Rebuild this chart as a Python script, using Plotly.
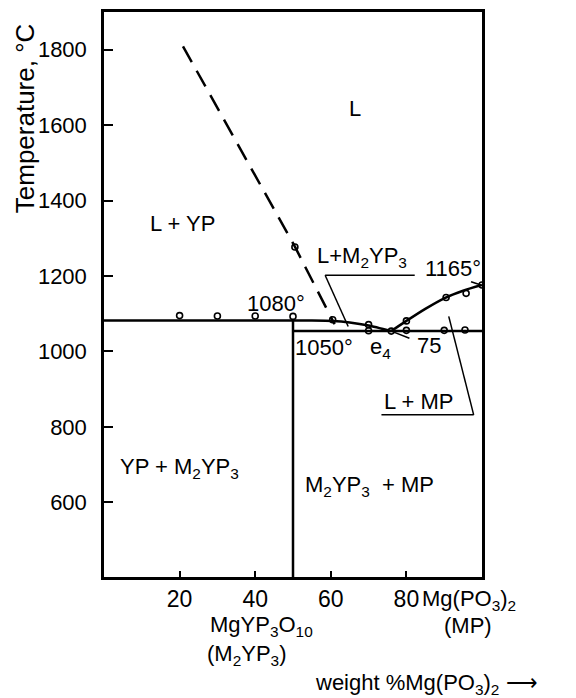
import plotly.graph_objects as go

# ---- data (weight % Mg(PO3)2, temperature in °C) ----
liq_left_x = [0, 50, 55, 60.5, 65, 70, 76]
liq_left_y = [1082, 1082, 1082, 1081, 1077, 1069, 1054]
liq_right_x = [76, 80, 85, 90, 95, 100]
liq_right_y = [1054, 1081, 1113, 1141, 1161, 1176]
solidus_x = [50, 100]
solidus_y = [1054, 1054]
compound_x = [50, 50]
compound_y = [402, 1082]
dashed_x = [20.9, 50.5, 61]
dashed_y = [1809, 1278, 1072]
exp_x = [20, 30, 40, 50, 60.5, 70, 70, 76, 80, 80, 90.5, 90, 95.8, 95.5, 100, 50.5]
exp_y = [1095, 1094, 1094, 1093, 1084, 1071, 1055, 1054, 1081, 1056, 1143, 1056, 1154, 1057, 1176, 1277]

x_tick_vals = [20, 40, 60, 80]
x_tick_text = ["20", "40", "60", "80"]
y_tick_vals = [600, 800, 1000, 1200, 1400, 1600, 1800]

# region / point labels: (text, x, y, xanchor)
labels = [
    ("L", 66.4, 1645, "center"),
    ("L + YP", 11.6, 1338, "left"),
    ("L+M<sub>2</sub>YP<sub>3</sub>", 55.8, 1250, "left"),
    ("1165°", 84.4, 1219, "left"),
    ("1080°", 37.3, 1127, "left"),
    ("1050°", 50.0, 1011, "left"),
    ("e<sub>4</sub>", 69.8, 1010, "left"),
    ("75", 82.3, 1016, "left"),
    ("L + MP", 73.5, 866, "left"),
    ("YP + M<sub>2</sub>YP<sub>3</sub>", 3.7, 692, "left"),
    ("M<sub>2</sub>YP<sub>3</sub>  + MP", 52.7, 642, "left"),
]

# leader lines: (x0, y0, x1, y1)
leaders = [
    (58.5, 1202, 82.2, 1202),
    (58.5, 1202, 64.6, 1066),
    (97.1, 1185, 99.7, 1176),
    (76.0, 1054, 80.8, 1035),
    (73.4, 832, 97.8, 832),
    (97.8, 832, 91.2, 1093),
]

# axis-end compound labels (text, x data, paper y)
bottom_labels = [
    ("YPO<sub>4</sub>", -5.8, -0.040),
    ("(YP)", -5.8, -0.087),
    ("Mg(PO<sub>3</sub>)<sub>2</sub>", 83.6, -0.040),
    ("(MP)", 89.4, -0.085),
    ("MgYP<sub>3</sub>O<sub>10</sub>", 27.5, -0.087),
    ("(M<sub>2</sub>YP<sub>3</sub>)", 26.7, -0.138),
    ("weight %Mg(PO<sub>3</sub>)<sub>2</sub> \u27f6", 55.3, -0.190),
]

FONT = "Liberation Sans, Arial, sans-serif"
LW = 2.5

fig = go.Figure()
line_style = dict(color="black", width=LW)
fig.add_trace(go.Scatter(x=liq_left_x, y=liq_left_y, mode="lines", line=dict(shape="spline", smoothing=0.6, **line_style)))
fig.add_trace(go.Scatter(x=liq_right_x, y=liq_right_y, mode="lines", line=dict(shape="spline", smoothing=0.8, **line_style)))
fig.add_trace(go.Scatter(x=solidus_x, y=solidus_y, mode="lines", line=line_style))
fig.add_trace(go.Scatter(x=compound_x, y=compound_y, mode="lines", line=line_style))
fig.add_trace(go.Scatter(x=dashed_x, y=dashed_y, mode="lines",
                         line=dict(color="black", width=LW, dash="18px,10px")))
fig.add_trace(go.Scatter(x=exp_x, y=exp_y, mode="markers",
                         marker=dict(symbol="circle-open", size=6, color="black", line=dict(width=1.6))))

for x0, y0, x1, y1 in leaders:
    fig.add_shape(type="line", x0=x0, y0=y0, x1=x1, y1=y1, xref="x", yref="y",
                  line=dict(color="black", width=1.5))

for text, x, y, xa in labels:
    fig.add_annotation(text=text, x=x, y=y, xref="x", yref="y", xanchor=xa, yanchor="middle",
                       showarrow=False, font=dict(size=22, color="black", family=FONT))

for text, x, y in bottom_labels:
    fig.add_annotation(text=text, x=x, y=y, xref="x", yref="paper", xanchor="left", yanchor="middle",
                       showarrow=False, font=dict(size=22, color="black", family=FONT))

fig.add_annotation(text="Temperature, °C", textangle=-90, x=-0.209, y=0.812, xref="paper", yref="paper",
                   xanchor="center", yanchor="middle", showarrow=False,
                   font=dict(size=26, color="black", family=FONT))

# page body has an 8px margin, so the figure is 8px smaller and offset
fig.update_layout(
    width=568, height=690,
    margin=dict(l=96, r=94, t=1, b=121),
    paper_bgcolor="white", plot_bgcolor="white",
    showlegend=False,
    font=dict(family=FONT, color="black"),
)
fig.update_xaxes(range=[0, 100], tickvals=x_tick_vals, ticktext=x_tick_text, ticks="inside", ticklen=6,
                 tickwidth=2, tickcolor="black", showline=True, linecolor="black", linewidth=2.5,
                 mirror=True, showgrid=False, zeroline=False, tickfont=dict(size=23, family=FONT),
                 ticklabelstandoff=0)
fig.update_yaxes(range=[402, 1900], tickvals=y_tick_vals, ticks="inside", ticklen=9,
                 tickwidth=2, tickcolor="black", showline=True, linecolor="black", linewidth=2.5,
                 mirror=True, showgrid=False, zeroline=False, tickfont=dict(size=22, family=FONT),
                 ticklabelstandoff=10)

fig.write_html("out.html")
